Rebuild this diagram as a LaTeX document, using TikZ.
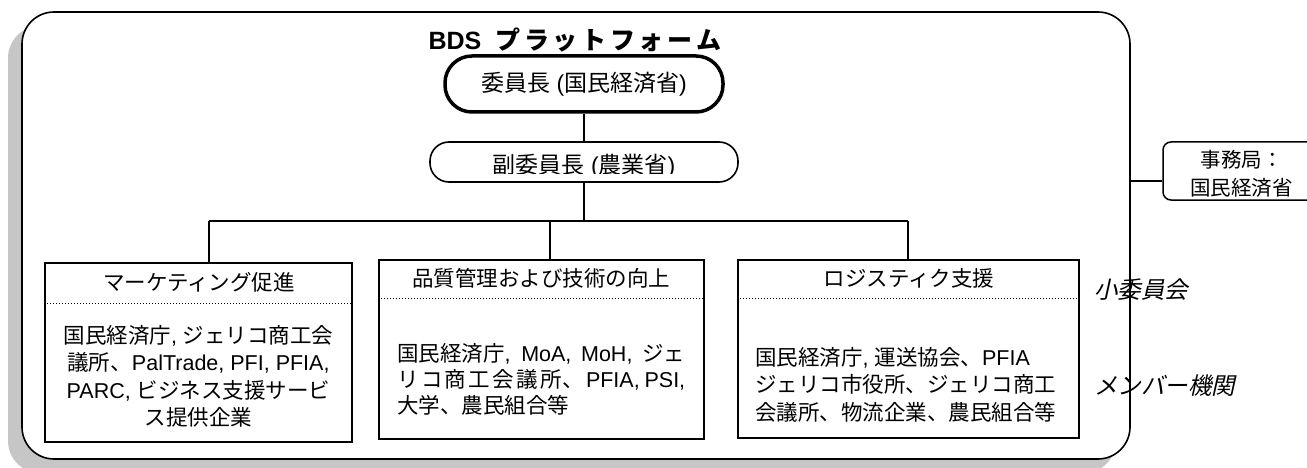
\documentclass[tikz,border=0pt]{standalone}
\usepackage{fontspec}
\setmainfont{Liberation Sans}
\newfontfamily\jpfont{Noto Sans CJK JP}
\newfontfamily\jpitfont[FakeSlant=0.22]{Noto Sans CJK JP}
\newcommand{\JP}[1]{{\jpfont #1}}
\usetikzlibrary{shadows}
\begin{document}
\begin{tikzpicture}[x=1pt,y=-1pt,
  conn/.style={line width=1.5pt},
  subbox/.style={draw,line width=1.8pt,inner sep=0pt,minimum height=179pt},
  sep/.style={line width=1pt,dotted},
  bodytext/.style={inner sep=0pt,font=\fontsize{21.5}{27.5}\selectfont},
  titletext/.style={inner sep=0pt,font=\fontsize{21.5}{26}\selectfont},
  sidelabel/.style={anchor=west,inner sep=0pt,font=\fontsize{23.5}{28}\selectfont\jpitfont}]
\useasboundingbox (0,0) rectangle (1307,468);

% platform frame with shadow
\node[draw, fill=white, line width=1.6pt, rounded corners=32pt, minimum width=1108pt, minimum height=447pt,
  drop shadow={shadow xshift=-14pt, shadow yshift=-14pt, fill=gray!45, opacity=1}] (platform) at (576,235.5) {};

% title
\node[inner sep=0pt, font=\fontsize{25}{30}\selectfont\bfseries] (title) at (575,40)
  {BDS\hspace{14pt}\makebox[226pt][s]{\jpfont\bfseries プ\hfil ラ\hfil ッ\hfil ト\hfil フ\hfil ォ\hfil ー\hfil ム}};

% chair and vice chair
\node[draw, line width=3.5pt, rounded corners=27pt, minimum width=278pt, minimum height=56pt, inner sep=0pt,
  font=\fontsize{23}{28}\selectfont] (chair) at (584,84) {\JP{委員長} (\JP{国民経済省})};
\node[draw, line width=1.6pt, rounded corners=19pt, minimum width=308pt, minimum height=40pt] (vice) at (584,162) {};
\begin{scope}
  \clip (440,145) rectangle (728,174);
  \node[inner sep=0pt, font=\fontsize{23}{28}\selectfont] (vicetext) at (584,166.5) {\JP{副委員長} (\JP{農業省})};
\end{scope}

% sub-committee boxes
\node[subbox, minimum width=307pt] (box1) at (198.5,352.5) {};
\node[subbox, minimum width=325pt] (box2) at (541.5,349.5) {};
\node[subbox, minimum width=341pt, minimum height=178pt] (box3) at (908.5,349) {};

\draw[sep] (box1.west |- 0,303) -- (box1.east |- 0,303);
\draw[sep] (box2.west |- 0,298) -- (box2.east |- 0,298);
\draw[sep] (box3.west |- 0,298) -- (box3.east |- 0,298);

\node[titletext] (t1) at (199,282) {\JP{マーケティング促進}};
\node[titletext] (t2) at (541,278) {\JP{品質管理および技術の向上}};
\node[titletext] (t3) at (909,278) {\JP{ロジスティク支援}};

\node[bodytext, align=center] (m1) at (198.5,376.5)
  {\JP{国民経済庁}, \JP{ジェリコ商工会}\\
   \JP{議所、}PalTrade, PFI, PFIA,\\
   PARC, \JP{ビジネス支援サービ}\\
   \JP{ス提供企業}};
\node[bodytext, align=left, anchor=west, font=\fontsize{21.5}{26}\selectfont] (m2) at (397,379)
  {\makebox[288pt][s]{\JP{国民経済庁}, MoA, MoH, \JP{ジェ}}\\
   \makebox[288pt][s]{\JP{リ}\hfil\JP{コ}\hfil\JP{商}\hfil\JP{工}\hfil\JP{会}\hfil\JP{議}\hfil\JP{所、}\hfil PFIA,\hfil\hfil PSI,}\\
   \JP{大学、農民組合等}};
\node[bodytext, align=left, anchor=west] (m3) at (755,384.5)
  {\JP{国民経済庁}, \JP{運送協会、}PFIA\\
   \JP{ジェリコ市役所、ジェリコ商工}\\
   \JP{会議所、物流企業、農民組合等}};

% connectors
\coordinate (j1) at (209,221);
\coordinate (j2) at (550,221);
\coordinate (j3) at (908,221);
\draw[conn] (chair.south) -- (vice.north);
\draw[conn] (vice.south) -- (vice.south |- j1);
\draw[conn] (j1) -- (j3);
\draw[conn] (j1) -- (j1 |- box1.north);
\draw[conn] (j2) -- (j2 |- box2.north);
\draw[conn] (j3) -- (j3 |- box3.north);

% secretariat
\node[draw, line width=1.5pt, rounded corners=8pt, minimum width=157pt, minimum height=58pt, inner sep=0pt] (sec) at (1241.5,171) {};
\node[inner sep=0pt, align=center, font=\fontsize{20.5}{28}\selectfont] (sectext) at (1241.5,174) {\JP{事務局：}\\ \JP{国民経済省}};
\draw[conn] (platform.east |- 0,181) -- (sec.west |- 0,181);

% side labels
\node[sidelabel] (lab1) at (1094,290) {小委員会};
\node[sidelabel] (lab2) at (1094,386) {メンバー機関};
\end{tikzpicture}
\end{document}
